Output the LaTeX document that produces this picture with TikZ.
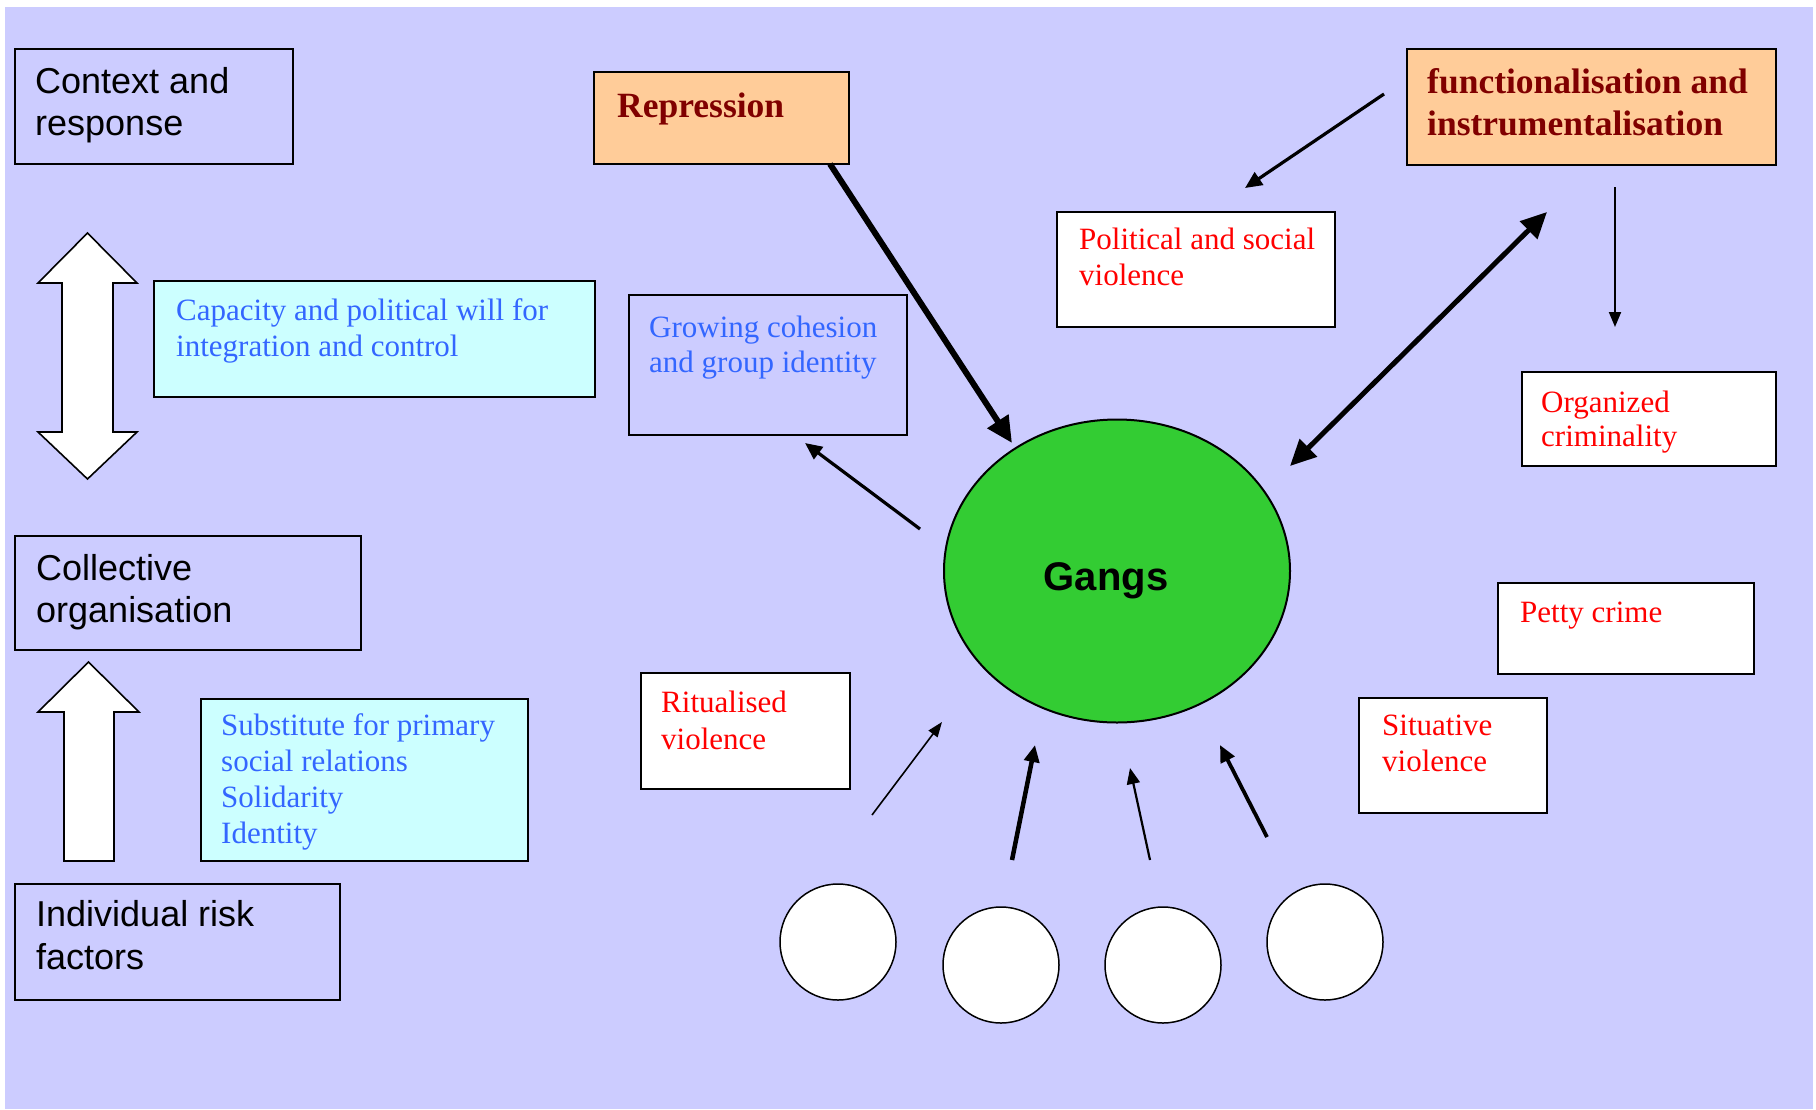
\documentclass[tikz,border=0pt]{standalone}
\usepackage{fontspec}
\setmainfont{Liberation Serif}
\newfontfamily\sansf{Liberation Sans}
\usetikzlibrary{arrows.meta,shapes.geometric}
\definecolor{lav}{HTML}{CCCCFF}
\definecolor{cyanbox}{HTML}{CCFFFF}
\definecolor{orangebox}{HTML}{FFCC99}
\definecolor{maroontxt}{HTML}{800000}
\definecolor{bluetxt}{HTML}{3366FF}
\definecolor{redtxt}{HTML}{FF0000}
\definecolor{gangsgreen}{HTML}{33CC33}
\begin{document}
\begin{tikzpicture}[x=1pt,y=-1pt,
  box/.style={draw=black, line width=1.6pt, inner sep=0pt, outer sep=0pt, anchor=north west},
  sanslbl/.style={font=\sansf\fontsize{36}{42}\selectfont, align=left, inner sep=0pt, anchor=base west, text=black},
  serlbl/.style={font=\fontsize{31}{36}\selectfont, align=left, inner sep=0pt, anchor=base west},
  boldlbl/.style={font=\bfseries\fontsize{35.5}{42}\selectfont, align=left, inner sep=0pt, anchor=base west, text=maroontxt},
  whitearrow/.style={draw=black, fill=white, line width=1.6pt, line join=miter},
  smallc/.style={circle, draw=black, fill=white, line width=1.5pt, minimum size=116pt, inner sep=0pt},
  arrA/.style={line width=6pt, -{Triangle[length=26pt,width=24pt]}},
  arrD/.style={line width=5pt, {Triangle[length=26pt,width=24pt]}-{Triangle[length=26pt,width=24pt]}},
  arrM/.style={line width=3.2pt, -{Triangle[length=17pt,width=15pt]}},
  arrT/.style={line width=2pt, -{Triangle[length=15pt,width=12pt]}},
  arrF1/.style={line width=1.6pt, -{Triangle[length=15pt,width=11pt]}},
  arrF2/.style={line width=4.5pt, -{Triangle[length=17pt,width=15pt]}},
  arrF3/.style={line width=2.2pt, -{Triangle[length=16pt,width=13pt]}},
  arrF4/.style={line width=3.8pt, -{Triangle[length=17pt,width=15pt]}}
]
\useasboundingbox (0,0) rectangle (1816,1109);
\fill[white] (0,0) rectangle (1816,1109);
\fill[lav] (5,7) rectangle (1813,1109);

% left column boxes (multi-line labels are placed by the baseline of their last line)
\node[box, minimum width=278pt, minimum height=115pt] (ctx) at (15,49) {};
\node[sanslbl] (ctxT) at (35,135) {Context and\\response};

\node[box, fill=cyanbox, minimum width=441pt, minimum height=116pt] (cap) at (154,281) {};
\node[serlbl, text=bluetxt] (capT) at (176,356) {Capacity and political will for\\integration and control};

\node[box, minimum width=346pt, minimum height=114pt] (coll) at (15,536) {};
\node[sanslbl] (collT) at (36,622) {Collective\\organisation};

\node[box, fill=cyanbox, minimum width=327pt, minimum height=162pt] (sub) at (201,699) {};
\node[serlbl, text=bluetxt] (subT) at (221,843) {Substitute for primary\\social relations\\Solidarity\\Identity};

\node[box, minimum width=325pt, minimum height=116pt] (ind) at (15,884) {};
\node[sanslbl, font=\sansf\fontsize{36}{43}\selectfont] (indT) at (36,969) {Individual risk\\factors};

% white block arrows
\draw[whitearrow] (87.5,233) -- (137,283) -- (113,283) -- (113,432) -- (137,432) -- (87.5,479)
  -- (38,432) -- (62,432) -- (62,283) -- (38,283) -- cycle;
\draw[whitearrow] (88.5,662) -- (139,712) -- (114,712) -- (114,861) -- (64,861) -- (64,712) -- (38,712) -- cycle;

% top boxes
\node[box, fill=orangebox, minimum width=255pt, minimum height=92pt] (rep) at (594,72) {};
\node[boldlbl] (repT) at (617,117) {Repression};

\node[box, fill=orangebox, minimum width=369pt, minimum height=116pt] (func) at (1407,49) {};
\node[boldlbl] (funcT) at (1427,135) {functionalisation and\\instrumentalisation};

\node[box, fill=white, minimum width=278pt, minimum height=115pt] (pol) at (1057,212) {};
\node[serlbl, text=redtxt] (polT) at (1079,285) {Political and social\\violence};

\node[box, minimum width=278pt, minimum height=140pt] (grow) at (629,295) {};
\node[serlbl, text=bluetxt, font=\fontsize{31}{35}\selectfont] (growT) at (649,372) {Growing cohesion\\and group identity};

\node[box, fill=white, minimum width=254pt, minimum height=94pt] (org) at (1522,372) {};
\node[serlbl, text=redtxt, font=\fontsize{31}{34}\selectfont] (orgT) at (1541,446) {Organized\\criminality};

\node[box, fill=white, minimum width=256pt, minimum height=91pt] (petty) at (1498,583) {};
\node[serlbl, text=redtxt] (pettyT) at (1520,622) {Petty crime};

\node[box, fill=white, minimum width=188pt, minimum height=115pt] (sit) at (1359,698) {};
\node[serlbl, text=redtxt] (sitT) at (1382,771) {Situative\\violence};

\node[box, fill=white, minimum width=209pt, minimum height=116pt] (rit) at (641,673) {};
\node[serlbl, text=redtxt, font=\fontsize{31}{37}\selectfont] (ritT) at (661,749) {Ritualised\\violence};

% gangs
\node[ellipse, draw=black, fill=gangsgreen, line width=2pt, minimum width=346pt, minimum height=303pt, inner sep=0pt] (gangs) at (1117,571) {};
\node[font=\sansf\bfseries\fontsize{40}{48}\selectfont, inner sep=0pt] (gangsT) at (1106,581) {Gangs};

% small circles
\node[smallc] (c1) at (838,942) {};
\node[smallc] (c2) at (1001,965) {};
\node[smallc] (c3) at (1163,965) {};
\node[smallc] (c4) at (1325,942) {};

% connector end points
\coordinate (repOut) at ([xshift=-19pt]rep.south east);
\coordinate (gIn1) at (1012,443);
\coordinate (gOut2) at (1290,466);
\coordinate (funcIn) at (1547,212);
\coordinate (funcOut1) at (1384,94);
\coordinate (polIn) at (1245,188);
\coordinate (funcOut2) at (1615,187);
\coordinate (orgIn) at (1615,327);
\coordinate (gOut3) at (920,529);
\coordinate (growIn) at (805,443);
\coordinate (f1s) at (872,815);
\coordinate (f1e) at (942,722);
\coordinate (f2s) at (1012,860);
\coordinate (f2e) at (1035,745);
\coordinate (f3s) at (1150,860);
\coordinate (f3e) at (1130,768);
\coordinate (f4s) at (1267,837);
\coordinate (f4e) at (1220,745);

% connectors
\draw[arrA] (repOut) -- (gIn1);
\draw[arrD] (gOut2) -- (funcIn);
\draw[arrM] (funcOut1) -- (polIn);
\draw[arrT] (funcOut2) -- (orgIn);
\draw[arrM] (gOut3) -- (growIn);
\draw[arrF1] (f1s) -- (f1e);
\draw[arrF2] (f2s) -- (f2e);
\draw[arrF3] (f3s) -- (f3e);
\draw[arrF4] (f4s) -- (f4e);
\end{tikzpicture}
\end{document}
